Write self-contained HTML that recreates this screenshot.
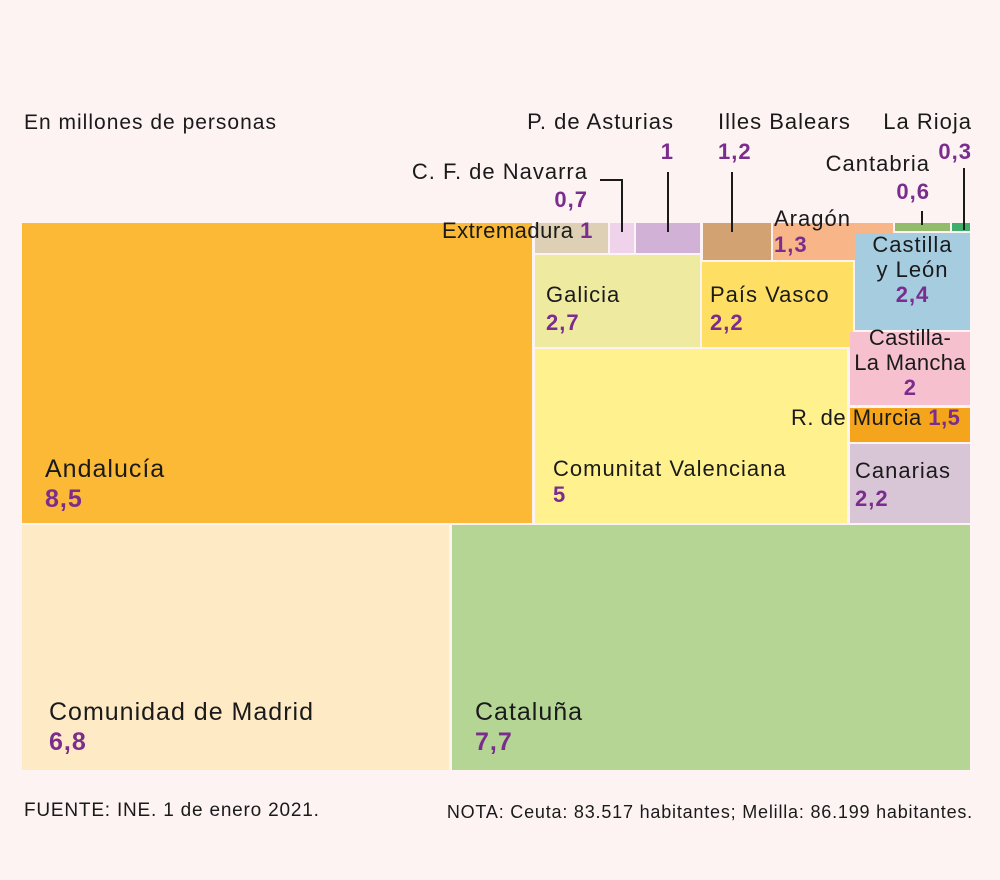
<!DOCTYPE html>
<html><head><meta charset="utf-8"><style>
body{margin:0;width:1000px;height:880px;background:#fdf3f3;position:relative;overflow:hidden;font-family:"Liberation Sans",sans-serif;color:#1a1a1a}
.r{position:absolute}
.t{position:absolute;font-size:22px;line-height:26px;white-space:nowrap;letter-spacing:1px}
.v{color:#7b2d8e;font-weight:bold}
.l{position:absolute;background:#1a1a1a}
</style></head><body>
<div class="t" style="left:24px;top:110px;font-size:21px">En millones de personas</div>

<div class="r" style="left:22px;top:223px;width:510px;height:300px;background:#fbb936"></div>
<div class="r" style="left:22px;top:525px;width:427px;height:245px;background:#feeac4"></div>
<div class="r" style="left:452px;top:525px;width:518px;height:245px;background:#b4d593"></div>
<div class="r" style="left:535px;top:223px;width:73px;height:30px;background:#ddd0b4"></div>
<div class="r" style="left:610px;top:223px;width:24px;height:30px;background:#efd3ea"></div>
<div class="r" style="left:636px;top:223px;width:64px;height:30px;background:#d1b2d6"></div>
<div class="r" style="left:703px;top:223px;width:68px;height:37px;background:#d3a272"></div>
<div class="r" style="left:773px;top:223px;width:120px;height:37px;background:#f7b588"></div>
<div class="r" style="left:895px;top:223px;width:55px;height:8px;background:#93bb6c"></div>
<div class="r" style="left:952px;top:223px;width:18px;height:8px;background:#3fae6b"></div>
<div class="r" style="left:855px;top:233px;width:115px;height:97px;background:#a6cce0"></div>
<div class="r" style="left:535px;top:255px;width:165px;height:92px;background:#eeeaa0"></div>
<div class="r" style="left:702px;top:262px;width:151px;height:85px;background:#ffdf63"></div>
<div class="r" style="left:535px;top:349px;width:312px;height:174px;background:#fff18e"></div>
<div class="r" style="left:850px;top:332px;width:120px;height:73px;background:#f7c0cf"></div>
<div class="r" style="left:850px;top:408px;width:120px;height:34px;background:#f4a51c"></div>
<div class="r" style="left:850px;top:444px;width:120px;height:79px;background:#d8c5d6"></div>

<div class="l" style="left:600px;top:179px;width:23px;height:2px"></div>
<div class="l" style="left:621px;top:179px;width:2px;height:53px"></div>
<div class="l" style="left:667px;top:172px;width:2px;height:60px"></div>
<div class="l" style="left:731px;top:172px;width:2px;height:60px"></div>
<div class="l" style="left:921px;top:211px;width:2px;height:14px"></div>
<div class="l" style="left:963px;top:168px;width:2px;height:62px"></div>

<div class="t" style="left:45px;top:454px;font-size:25px;line-height:30px">Andalucía<br><span class="v">8,5</span></div>
<div class="t" style="left:49px;top:697px;font-size:25px;line-height:30px">Comunidad de Madrid<br><span class="v">6,8</span></div>
<div class="t" style="left:475px;top:697px;font-size:25px;line-height:30px">Cataluña<br><span class="v">7,7</span></div>
<div class="t" style="left:553px;top:456px">Comunitat Valenciana<br><span class="v">5</span></div>
<div class="t" style="left:546px;top:281px;line-height:28px">Galicia<br><span class="v">2,7</span></div>
<div class="t" style="left:710px;top:281px;line-height:28px">País Vasco<br><span class="v">2,2</span></div>
<div class="t" style="left:855px;top:457px;line-height:28px">Canarias<br><span class="v">2,2</span></div>
<div class="t" style="left:791px;top:405px;letter-spacing:0.5px">R. de Murcia <span class="v">1,5</span></div>
<div class="t" style="left:850px;top:325px;width:120px;text-align:center;line-height:25px;letter-spacing:0.3px">Castilla-<br>La Mancha<br><span class="v">2</span></div>
<div class="t" style="left:855px;top:232px;width:115px;text-align:center;line-height:25px">Castilla<br>y León<br><span class="v">2,4</span></div>
<div class="t" style="left:774px;top:206px;line-height:26px">Aragón<br><span class="v">1,3</span></div>
<div class="t" style="left:442px;top:218px;letter-spacing:0.5px">Extremadura <span class="v">1</span></div>
<div class="t" style="left:380px;top:158px;width:208px;text-align:right;line-height:28px">C. F. de Navarra<br><span class="v">0,7</span></div>
<div class="t" style="left:480px;top:107px;width:194px;text-align:right;line-height:30px">P. de Asturias<br><span class="v">1</span></div>
<div class="t" style="left:718px;top:107px;line-height:30px">Illes Balears<br><span class="v">1,2</span></div>
<div class="t" style="left:780px;top:150px;width:150px;text-align:right;line-height:28px">Cantabria<br><span class="v">0,6</span></div>
<div class="t" style="left:840px;top:107px;width:132px;text-align:right;line-height:30px">La Rioja<br><span class="v">0,3</span></div>

<div class="t" style="left:24px;top:798px;font-size:19px;letter-spacing:0.8px">FUENTE: INE. 1 de enero 2021.</div>
<div class="t" style="left:420px;top:799px;font-size:18px;width:553px;text-align:right;letter-spacing:0.8px">NOTA: Ceuta: 83.517 habitantes; Melilla: 86.199 habitantes.</div>
</body></html>
